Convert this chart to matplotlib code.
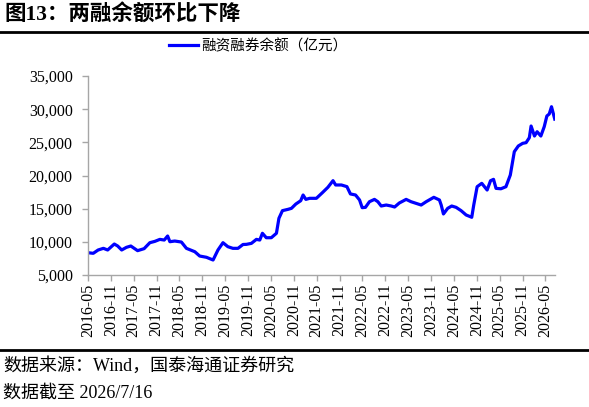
import pandas as pd
import matplotlib
matplotlib.use('Agg')
import matplotlib.pyplot as plt
import matplotlib.dates as mdates
from matplotlib.ticker import FuncFormatter, MultipleLocator

plt.rcParams['font.family'] = ['Liberation Serif', 'Noto Sans CJK SC', 'DejaVu Sans']

dates = [
    '2016-05-01', '2016-06-12', '2016-07-21', '2016-09-01', '2016-10-05', '2016-11-27',
    '2016-12-24', '2017-01-25', '2017-03-04', '2017-04-08', '2017-06-01', '2017-07-23',
    '2017-09-07', '2017-10-17', '2017-11-26', '2017-12-31', '2018-01-27', '2018-02-14',
    '2018-03-25', '2018-05-17', '2018-06-26', '2018-09-01', '2018-10-10', '2018-12-03',
    '2019-01-25', '2019-03-05', '2019-04-14', '2019-05-23', '2019-07-02', '2019-08-12',
    '2019-09-21', '2019-10-18', '2019-11-27', '2020-01-06', '2020-02-02', '2020-02-23',
    '2020-03-25', '2020-05-04', '2020-06-14', '2020-07-04', '2020-08-01', '2020-09-15',
    '2020-10-12', '2020-11-16', '2020-12-25', '2021-01-13', '2021-02-04', '2021-03-06',
    '2021-04-29', '2021-06-16', '2021-07-30', '2021-09-09', '2021-09-30', '2021-11-15',
    '2021-12-29', '2022-01-26', '2022-03-08', '2022-04-09', '2022-04-30', '2022-05-26',
    '2022-06-27', '2022-08-06', '2022-09-02', '2022-09-29', '2022-11-08', '2022-12-18',
    '2023-01-14', '2023-02-20', '2023-04-16', '2023-05-25', '2023-08-14', '2023-09-23',
    '2023-11-23', '2024-01-07', '2024-01-21', '2024-02-08', '2024-03-13', '2024-04-14',
    '2024-05-19', '2024-06-28', '2024-08-07', '2024-09-21', '2024-10-07', '2024-11-03',
    '2024-12-10', '2025-01-22', '2025-02-18', '2025-03-14', '2025-04-03', '2025-05-12',
    '2025-06-21', '2025-07-26', '2025-08-27', '2025-09-28', '2025-11-02', '2025-11-29',
    '2025-12-25', '2026-01-08', '2026-02-04', '2026-02-25', '2026-03-27', '2026-04-23',
    '2026-05-14', '2026-06-02', '2026-06-20', '2026-07-16',
]
margin_balance = [
    8360, 8270, 8770, 9020, 8770, 9670,
    9370, 8770, 9170, 9370, 8670, 8970,
    9870, 10070, 10370, 10270, 10880, 10020,
    10120, 9970, 9020, 8510, 7860, 7670,
    7260, 8770, 9870, 9270, 9020, 9020,
    9600, 9620, 9770, 10370, 10270, 11290,
    10620, 10620, 11290, 13550, 14700, 14900,
    15050, 15700, 16200, 17060, 16400, 16560,
    16560, 17410, 18220, 19220, 18570, 18570,
    18320, 17220, 17060, 16310, 15150, 15200,
    16050, 16400, 16050, 15400, 15550, 15400,
    15250, 15850, 16400, 16050, 15550, 16050,
    16710, 16310, 15550, 14200, 15050, 15400,
    15200, 14700, 14050, 13700, 15550, 18310,
    18820, 17810, 19210, 19420, 18060, 18000,
    18310, 20070, 23590, 24450, 24850, 24950,
    25700, 27460, 25950, 26600, 25950, 27360,
    28970, 29270, 30370, 28500,
]
tick_months = pd.date_range('2016-05-01', '2026-05-01', freq='6MS')
series_label = '融资融券余额（亿元）'
title = '图13：两融余额环比下降'
source_note = '数据来源：Wind，国泰海通证券研究'
date_note = '数据截至 2026/7/16'

x = pd.to_datetime(dates)

fig = plt.figure(figsize=(5.89, 4.07), dpi=100)
ax = fig.add_axes([88 / 589, 1 - 275 / 407, (555 - 88) / 589, (275 - 76) / 407])

line, = ax.plot(x, margin_balance, color='#0000ff', lw=2.3, solid_joinstyle='round')

ax.set_xlim(pd.Timestamp('2016-05-01'), pd.Timestamp('2026-07-18'))
ax.set_ylim(5000, 35000)
ax.yaxis.set_major_locator(MultipleLocator(5000))
ax.yaxis.set_major_formatter(FuncFormatter(lambda v, _: f'{v:,.0f}'))
ax.set_xticks(tick_months)
ax.xaxis.set_major_formatter(mdates.DateFormatter('%Y-%m'))

for s in ['top', 'right']:
    ax.spines[s].set_visible(False)
for s in ['left', 'bottom']:
    ax.spines[s].set_color('#a6a6a6')
    ax.spines[s].set_linewidth(1.0)
ax.tick_params(axis='both', direction='out', length=4, width=1.0, color='#a6a6a6',
               labelsize=11.5, labelcolor='black')
ax.tick_params(axis='y', pad=7)
ax.tick_params(axis='x', pad=2, labelrotation=90)

fig.legend([line], [series_label], loc='center', bbox_to_anchor=(258 / 589, 1 - 46 / 407),
           frameon=False, handlelength=2.0, handletextpad=0.2,
           prop={'family': ['Noto Sans CJK SC'], 'size': 10.5})

fig.text(4 / 589, 1 - 15 / 407, title, fontsize=15.5, fontweight='bold', va='center', ha='left')
fig.add_artist(plt.Line2D([0, 1], [1 - 32 / 407] * 2, color='black', lw=2.0, transform=fig.transFigure))
fig.add_artist(plt.Line2D([0, 1], [1 - 350 / 407] * 2, color='black', lw=2.0, transform=fig.transFigure))
fig.text(3 / 589, 1 - 366 / 407, source_note, fontsize=13, va='center', ha='left')
fig.text(3 / 589, 1 - 393 / 407, date_note, fontsize=13, va='center', ha='left')

fig.savefig('out.png', dpi=100)
